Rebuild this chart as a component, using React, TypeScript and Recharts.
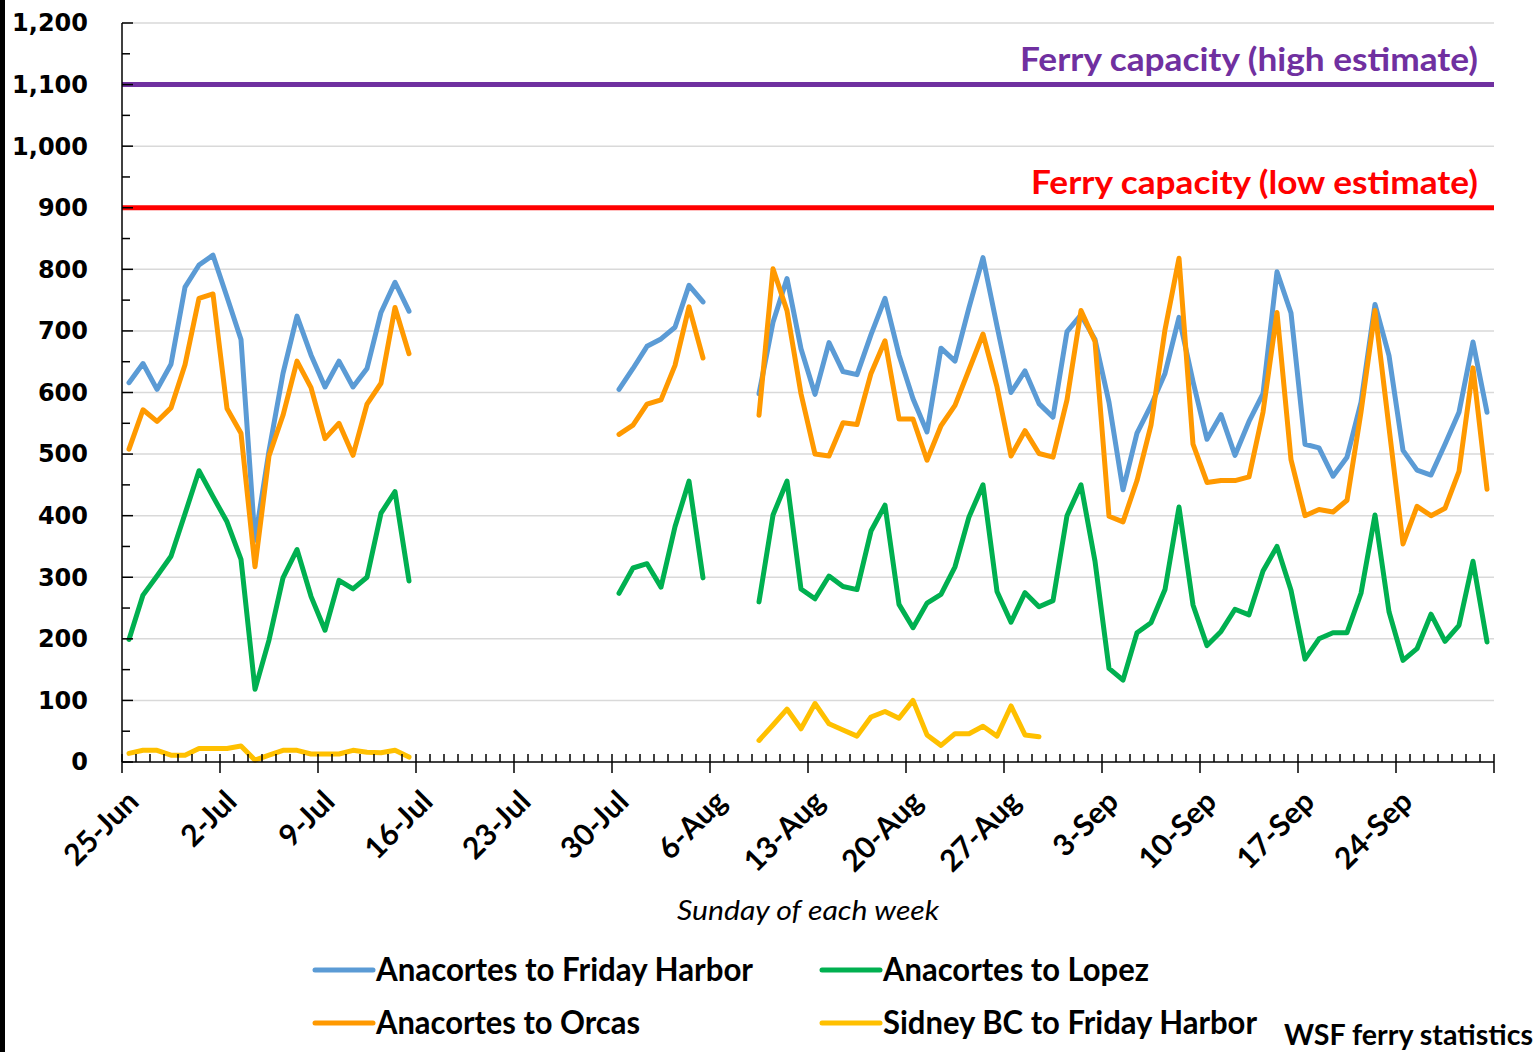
import React from "react";
import { LineChart, Line, XAxis, YAxis, CartesianGrid, ReferenceLine, Legend } from "recharts";

const gap = (n: number) => Array<number | null>(n).fill(null);

// one label per Sunday, days run 25-Jun .. 30-Sep
const weekLabels = [
  "25-Jun", "2-Jul", "9-Jul", "16-Jul", "23-Jul", "30-Jul", "6-Aug",
  "13-Aug", "20-Aug", "27-Aug", "3-Sep", "10-Sep", "17-Sep", "24-Sep",
];
const dayCount = 98;

const fridayHarbor: (number | null)[] = [
  616, 647, 605, 646, 771, 807, 823, 755, 686, 360, 505, 631, 724, 661, 609, 651, 609, 639, 730, 779, 732,
  ...gap(14),
  605, 639, 675, 687, 706, 774, 747,
  ...gap(3),
  598, 714, 785, 671, 597, 681, 634, 629, 694, 753, 661, 590, 536, 672, 651, 738, 819, 708, 600, 635,
  582, 560, 699, 726, 686, 584, 442, 534, 579, 631, 722, 618, 524, 564, 498, 553, 598, 796, 729, 516,
  510, 464, 495, 584, 743, 660, 506, 474, 466, 516, 568, 682, 568,
];

const orcas: (number | null)[] = [
  508, 572, 553, 575, 645, 753, 760, 574, 534, 317, 497, 563, 651, 608, 525, 550, 498, 581, 615, 738, 663,
  ...gap(14),
  532, 547, 581, 588, 644, 739, 656,
  ...gap(3),
  563, 801, 733, 598, 500, 497, 551, 548, 631, 684, 557, 557, 490, 546, 579, 637, 695, 609, 497, 538,
  501, 495, 588, 733, 683, 399, 390, 457, 547, 702, 818, 516, 454, 457, 457, 463, 568, 730, 491, 400,
  410, 406, 425, 568, 733, 543, 354, 415, 400, 412, 472, 640, 443,
];

const lopez: (number | null)[] = [
  199, 271, 302, 334, 403, 473, 431, 390, 329, 118, 198, 299, 345, 269, 214, 295, 281, 300, 404, 439, 294,
  ...gap(14),
  274, 315, 322, 284, 382, 456, 299,
  ...gap(3),
  260, 401, 456, 281, 265, 302, 285, 280, 375, 417, 256, 218, 258, 272, 317, 398, 450, 277, 227, 275,
  252, 262, 400, 450, 326, 152, 133, 210, 226, 280, 414, 255, 189, 212, 248, 239, 310, 350, 279, 167,
  200, 210, 210, 274, 401, 244, 165, 184, 240, 196, 222, 326, 195,
];

const sidney: (number | null)[] = [
  14, 19, 19, 11, 11, 22, 22, 22, 26, 3, 11, 19, 19, 13, 13, 13, 19, 16, 15, 19, 8,
  ...gap(24),
  35, 60, 86, 54, 95, 62, 52, 42, 73, 82, 71, 100, 44, 27, 46, 46, 58, 42, 91, 44, 41,
  ...gap(32),
];

const capacityHigh = 1100;
const capacityLow = 900;

const series = [
  { key: "fh", name: "Anacortes to Friday Harbor", color: "#5B9BD5" },
  { key: "orcas", name: "Anacortes to Orcas", color: "#FF9900" },
  { key: "lopez", name: "Anacortes to Lopez", color: "#00B050" },
  { key: "sidney", name: "Sidney BC to Friday Harbor", color: "#FFC000" },
];

const data = Array.from({ length: dayCount }, (_, i) => ({
  day: i,
  fh: fridayHarbor[i],
  orcas: orcas[i],
  lopez: lopez[i],
  sidney: sidney[i],
}));

const xTicks = Array.from({ length: dayCount + 1 }, (_, k) => k - 0.5);
const yTicks = Array.from({ length: 25 }, (_, k) => k * 50);
const gridValues = Array.from({ length: 12 }, (_, k) => (k + 1) * 100);

const FONT = "Lato, 'Open Sans', sans-serif";

function XTick(props: any) {
  const { x, y, payload } = props;
  const b = Math.round(payload.value + 0.5);
  const major = b % 7 === 0;
  const label = major ? weekLabels[b / 7] : undefined;
  return (
    <g>
      <line x1={x} x2={x} y1={y - 8} y2={major ? y + 11 : y} stroke="#000" strokeWidth={1.5} />
      {label && (
        <text
          transform={`translate(${x + 11}, ${y + 34}) rotate(-45)`}
          textAnchor="end"
          dy="0.35em"
          fontFamily={FONT}
          fontWeight={700}
          fontSize={30}
          fill="#000"
        >
          {label}
        </text>
      )}
    </g>
  );
}

function YTick(props: any) {
  const { x, y, payload } = props;
  const major = payload.value % 100 === 0;
  return (
    <g>
      <line x1={x} x2={x + (major ? 11 : 8)} y1={y} y2={y} stroke="#000" strokeWidth={1.5} />
      {major && (
        <text
          x={x - 34}
          y={y}
          dy="0.35em"
          textAnchor="end"
          fontFamily="'DejaVu Sans', sans-serif"
          fontWeight={700}
          fontSize={24}
          fill="#000"
        >
          {payload.value.toLocaleString("en-US")}
        </text>
      )}
    </g>
  );
}

function CapacityLabel(props: any) {
  const { viewBox, text, color, width } = props;
  const right = viewBox.x + viewBox.width - 16;
  return (
    <text
      x={right}
      y={viewBox.y - 14}
      textAnchor="end"
      fontFamily={FONT}
      fontWeight={700}
      fontSize={33}
      fill={color}
      textLength={width}
      lengthAdjust="spacingAndGlyphs"
    >
      {text}
    </text>
  );
}

function AxisTitle(props: any) {
  const { viewBox } = props;
  return (
    <text
      x={viewBox.x + viewBox.width / 2}
      y={viewBox.y + 158}
      textAnchor="middle"
      fontFamily={FONT}
      fontStyle="italic"
      fontSize={27}
      fill="#000"
      textLength={262}
      lengthAdjust="spacingAndGlyphs"
    >
      Sunday of each week
    </text>
  );
}

const legendSlots = [
  { x: 15, y: 30, w: 377 },
  { x: 15, y: 83, w: 264 },
  { x: 522, y: 30, w: 266 },
  { x: 522, y: 83, w: 374 },
];

function LegendBox() {
  return (
    <svg width={1239} height={112} style={{ display: "block" }}>
      {series.map((s, i) => {
        const slot = legendSlots[i];
        return (
          <g key={s.key}>
            <line x1={slot.x} x2={slot.x + 58} y1={slot.y} y2={slot.y} stroke={s.color} strokeWidth={5} strokeLinecap="round" />
            <text
              x={slot.x + 61}
              y={slot.y + 11}
              fontFamily={FONT}
              fontWeight={700}
              fontSize={32}
              fill="#000"
              textLength={slot.w}
              lengthAdjust="spacingAndGlyphs"
            >
              {s.name}
            </text>
          </g>
        );
      })}
      <text
        x={984}
        y={105}
        fontFamily={FONT}
        fontWeight={700}
        fontSize={28}
        fill="#000"
        textLength={249}
        lengthAdjust="spacingAndGlyphs"
      >
        WSF ferry statistics
      </text>
    </svg>
  );
}

export default function App() {
  return (
    <div style={{ position: "absolute", left: 0, top: 0, width: 1539, height: 1052, background: "#fff" }}>
      <div style={{ position: "absolute", left: 0, top: 0, width: 5, height: 1052, background: "#000" }} />
      <LineChart width={1539} height={1052} data={data} margin={{ top: 23, right: 45, bottom: 120, left: 0 }}>
        <CartesianGrid vertical={false} horizontalValues={gridValues} stroke="#D9D9D9" strokeWidth={1.5} />
        <XAxis
          dataKey="day"
          type="number"
          domain={[-0.5, dayCount - 0.5]}
          ticks={xTicks}
          interval={0}
          tick={<XTick />}
          tickLine={false}
          tickSize={0}
          tickMargin={0}
          axisLine={{ stroke: "#000", strokeWidth: 1.5 }}
          height={170}
          label={<AxisTitle />}
        />
        <YAxis
          type="number"
          domain={[0, 1200]}
          ticks={yTicks}
          interval={0}
          tick={<YTick />}
          tickLine={false}
          tickSize={0}
          tickMargin={0}
          axisLine={{ stroke: "#000", strokeWidth: 1.5 }}
          width={122}
        />
        <ReferenceLine
          y={capacityHigh}
          stroke="#7030A0"
          strokeWidth={5}
          label={<CapacityLabel text="Ferry capacity (high estimate)" color="#7030A0" width={458} />}
        />
        <ReferenceLine
          y={capacityLow}
          stroke="#FF0000"
          strokeWidth={5}
          label={<CapacityLabel text="Ferry capacity (low estimate)" color="#FF0000" width={447} />}
        />
        {series.map((s) => (
          <Line
            key={s.key}
            type="linear"
            dataKey={s.key}
            name={s.name}
            stroke={s.color}
            strokeWidth={5}
            strokeLinejoin="round"
            strokeLinecap="round"
            dot={false}
            activeDot={false}
            isAnimationActive={false}
          />
        ))}
        <Legend
          layout="horizontal"
          verticalAlign="middle"
          align="center"
          wrapperStyle={{ left: 300, top: 940, width: 1239, height: 112 }}
          content={<LegendBox />}
        />
      </LineChart>
    </div>
  );
}
